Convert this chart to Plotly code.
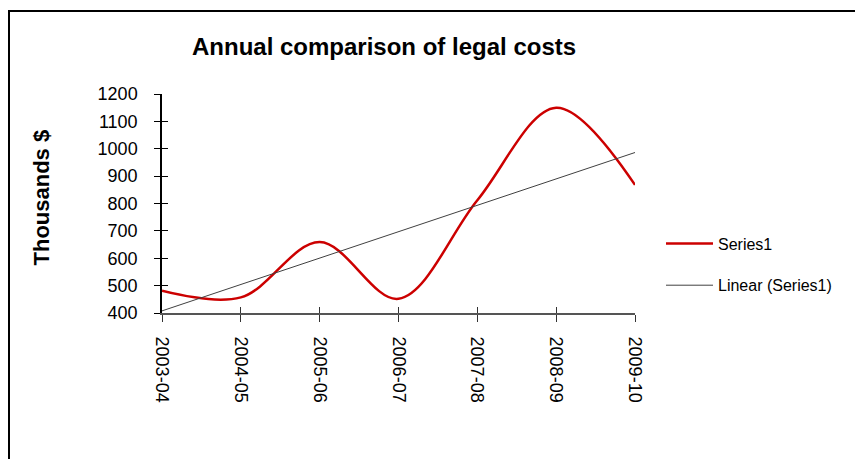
import numpy as np
import plotly.graph_objects as go

categories = ["2003-04", "2004-05", "2005-06", "2006-07", "2007-08", "2008-09", "2009-10"]
series1 = [481, 457, 659, 452, 812, 1150, 868]
y_ticks = [400, 500, 600, 700, 800, 900, 1000, 1100, 1200]

xi = np.arange(len(categories))
slope, intercept = np.polyfit(xi, series1, 1)
trend = list(slope * xi + intercept)

FONT = "Liberation Sans, Arial, sans-serif"
OFF = 8  # page body margin
FW, FH = 863 - OFF, 459 - OFF

# target plot area in screen pixels: x 162..635, y 94..313
L, R, T, B = 162, 635, 94, 313
W, H = R - L, B - T
def px(x):
    return (x - L) / W
def py(y):
    return (B - y) / H

fig = go.Figure()
fig.add_trace(go.Scatter(
    x=categories, y=series1, mode="lines", name="Series1",
    line=dict(color="#CC0000", width=2.5, shape="spline", smoothing=1.0),
    legendgroup="a",
))
fig.add_trace(go.Scatter(
    x=categories, y=trend, mode="lines", name="Linear (Series1)",
    line=dict(color="#404040", width=1),
    legendgroup="b",
))
fig.add_trace(go.Scatter(x=categories, y=series1, xaxis="x2", yaxis="y2", mode="lines",
                         line=dict(width=0), opacity=0, showlegend=False, hoverinfo="skip"))

fig.update_layout(
    width=FW, height=FH,
    margin=dict(l=L - OFF, r=FW - (R - OFF), t=T - OFF, b=FH - (B - OFF)),
    paper_bgcolor="white", plot_bgcolor="white",
    font=dict(family=FONT, color="black", size=18),
    showlegend=True,
    legend=dict(x=px(661), y=py(264.5), xanchor="left", yanchor="middle",
                font=dict(size=16), tracegroupgap=18, itemwidth=47,
                bgcolor="rgba(0,0,0,0)"),
    xaxis=dict(
        type="category", categoryorder="array", categoryarray=categories,
        range=[0, len(categories) - 1],
        showgrid=False, zeroline=False,
        showline=True, linecolor="#555555", linewidth=2,
        ticks="outside", ticklen=7, tickwidth=1, tickcolor="#333333",
        tickangle=90, tickfont=dict(size=18), ticklabelstandoff=11,
    ),
    yaxis=dict(
        range=[400, 1200], tickvals=y_ticks,
        showgrid=False, zeroline=False,
        showline=True, linecolor="black", linewidth=1.5,
        ticks="outside", ticklen=6, tickwidth=1, tickcolor="black",
        tickfont=dict(size=18), ticklabelstandoff=13,
    ),
    xaxis2=dict(overlaying="x", matches="x", anchor="y", showgrid=False, zeroline=False,
                showline=False, ticks="inside", ticklen=6, tickcolor="#333333",
                showticklabels=False, type="category"),
    yaxis2=dict(overlaying="y", matches="y", anchor="x", side="left", showgrid=False,
                zeroline=False, showline=False, ticks="inside", ticklen=6,
                tickcolor="black", showticklabels=False, tickvals=y_ticks),
)

# title
fig.add_annotation(text="<b>Annual comparison of legal costs</b>", xref="paper", yref="paper",
                   x=px(384), y=py(46), xanchor="center", yanchor="middle", showarrow=False,
                   font=dict(size=24, family=FONT))
# y-axis title
fig.add_annotation(text="<b>Thousands $</b>", xref="paper", yref="paper",
                   x=px(40.5), y=py(197), xanchor="center", yanchor="middle", showarrow=False,
                   textangle=-90, font=dict(size=22, family=FONT))

# clip tick labels like the reference
fig.add_shape(type="rect", xref="paper", yref="paper", x0=px(140), x1=px(660),
              y0=py(414), y1=py(470), fillcolor="white", line=dict(width=0), layer="above")
# chart border
fig.add_shape(type="rect", xref="paper", yref="paper", x0=px(9), x1=px(856),
              y0=py(11), y1=py(480), line=dict(color="black", width=2),
              fillcolor="rgba(0,0,0,0)", layer="above")

fig.write_html("out.html")
